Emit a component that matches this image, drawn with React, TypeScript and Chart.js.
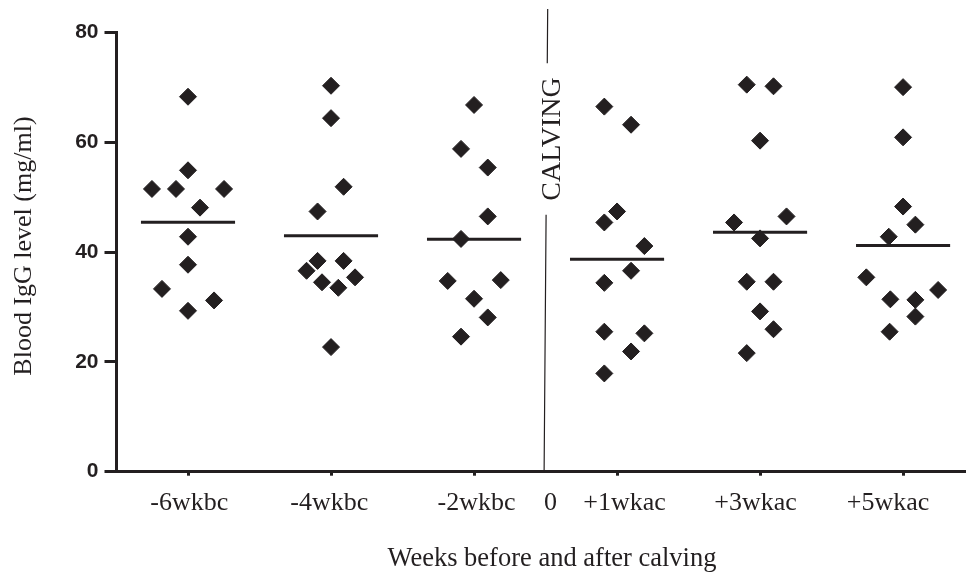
import React, { useEffect, useRef } from "react";
import { Chart, registerables } from "chart.js";

Chart.register(...registerables);

const INK = "#231f20";
const SERIF = '"Liberation Serif", "Times New Roman", Times, serif';
const SANS = '"Liberation Sans", Arial, Helvetica, sans-serif';

// Group centres on the index axis
const groupPositions = [0, 1, 2, 3, 4, 5];

// Individual IgG values (mg/ml) and their horizontal jitter (in group units)
const g6wkbcValues = [68.3, 54.9, 51.5, 51.5, 51.5, 48.1, 42.8, 37.7, 33.3, 31.2, 29.3];
const g6wkbcOffsets = [0, 0, -0.252, -0.084, 0.252, 0.084, 0, 0, -0.182, 0.182, 0];

const g4wkbcValues = [70.3, 64.4, 51.9, 47.4, 38.4, 38.4, 36.6, 35.4, 34.5, 33.5, 22.7];
const g4wkbcOffsets = [0, 0, 0.088, -0.094, -0.094, 0.088, -0.171, 0.168, -0.063, 0.051, 0];

const g2wkbcValues = [66.8, 58.8, 55.4, 46.5, 42.4, 34.75, 34.9, 31.5, 28.1, 24.6];
const g2wkbcOffsets = [0, -0.091, 0.096, 0.096, -0.091, -0.184, 0.187, 0, 0.096, -0.091];

const g1wkacValues = [66.5, 63.2, 47.4, 45.4, 41.1, 36.6, 34.4, 25.5, 25.2, 21.9, 17.9];
const g1wkacOffsets = [-0.089, 0.098, 0, -0.089, 0.191, 0.098, -0.089, -0.089, 0.191, 0.098, -0.089];

const g3wkacValues = [70.5, 70.2, 60.3, 46.5, 45.4, 42.5, 34.6, 34.6, 29.2, 25.95, 21.6];
const g3wkacOffsets = [-0.093, 0.094, 0, 0.185, -0.182, 0, -0.093, 0.094, 0, 0.094, -0.093];

const g5wkacValues = [70.05, 60.9, 48.3, 45.0, 42.8, 35.4, 31.4, 31.3, 33.1, 28.25, 25.5];
const g5wkacOffsets = [0, 0, 0, 0.086, -0.1, -0.257, -0.089, 0.086, 0.245, 0.086, -0.094];

const groupValues = [g6wkbcValues, g4wkbcValues, g2wkbcValues, g1wkacValues, g3wkacValues, g5wkacValues];
const groupOffsets = [g6wkbcOffsets, g4wkbcOffsets, g2wkbcOffsets, g1wkacOffsets, g3wkacOffsets, g5wkacOffsets];

// Group means (horizontal bars)
const means = [45.45, 43.0, 42.35, 38.7, 43.6, 41.2];
const MEAN_HALF_WIDTH = 0.329;

// Axes
const yTicks = [0, 20, 40, 60, 80];
const xLabelTexts = ["-6wkbc", "-4wkbc", "-2wkbc", "0", "+1wkac", "+3wkac", "+5wkac"];
const xLabelPositions = [0.009, 0.988, 2.017, 2.534, 3.053, 3.968, 4.895];
const X_MIN = -0.5;
const X_MAX = 5.44;
const Y_TITLE = "Blood IgG level (mg/ml)";
const Y_TITLE_CENTER = 41.1; // y value at which the y title is centred
const X_TITLE = "Weeks before and after calving";
const X_TITLE_CENTER = 2.545; // x value at which the x title is centred

// Calving marker
const CALVING_BOTTOM_X = 2.49;
const CALVING_TOP_X = 2.515;
const CALVING_TOP_Y = 84.3;
const CALVING_LABEL_Y = 60.6;

const calvingPlugin = {
  id: "calving",
  afterDatasetsDraw(chart: any) {
    const { ctx } = chart;
    const x = chart.scales.x;
    const y = chart.scales.y;
    const xb = x.getPixelForValue(CALVING_BOTTOM_X);
    const yb = y.getPixelForValue(0);
    const xt = x.getPixelForValue(CALVING_TOP_X);
    const yt = y.getPixelForValue(CALVING_TOP_Y);
    const xAt = (py: number) => xb + ((xt - xb) * (yb - py)) / (yb - yt);
    ctx.save();
    ctx.font = `28px ${SERIF}`;
    const tw = ctx.measureText("CALVING").width;
    const ly = y.getPixelForValue(CALVING_LABEL_Y);
    const gap = tw / 2 + 14;
    ctx.strokeStyle = INK;
    ctx.lineWidth = 1.2;
    ctx.beginPath();
    ctx.moveTo(xb, yb);
    ctx.lineTo(xAt(ly + gap), ly + gap);
    ctx.moveTo(xAt(ly - gap), ly - gap);
    ctx.lineTo(xt, yt);
    ctx.stroke();
    ctx.translate(xAt(ly) + 5.5, ly);
    ctx.rotate(-Math.PI / 2);
    ctx.textAlign = "center";
    ctx.textBaseline = "middle";
    ctx.fillStyle = INK;
    ctx.fillText("CALVING", 0, 0);
    ctx.restore();
  },
};

const axisTitlesPlugin = {
  id: "axisTitles",
  afterDraw(chart: any) {
    const { ctx } = chart;
    const y = chart.scales.y;
    const xl = chart.scales.xl;
    ctx.save();
    ctx.fillStyle = INK;
    ctx.textAlign = "center";
    ctx.textBaseline = "middle";
    ctx.font = `26.5px ${SERIF}`;
    ctx.fillText(X_TITLE, xl.getPixelForValue(X_TITLE_CENTER), xl.bottom - 18);
    ctx.font = `26px ${SERIF}`;
    ctx.translate(y.left + 24.5, y.getPixelForValue(Y_TITLE_CENTER));
    ctx.rotate(-Math.PI / 2);
    ctx.fillText(Y_TITLE, 0, 0);
    ctx.restore();
  },
};

export default function App() {
  const canvasRef = useRef<HTMLCanvasElement | null>(null);

  useEffect(() => {
    if (!canvasRef.current) return;

    const points: { x: number; y: number }[] = [];
    groupValues.forEach((vals, gi) => {
      vals.forEach((v, i) => {
        points.push({ x: groupPositions[gi] + groupOffsets[gi][i], y: v });
      });
    });

    const meanSets = means.map((m, gi) => ({
      type: "scatter" as const,
      data: [
        { x: groupPositions[gi] - MEAN_HALF_WIDTH, y: m },
        { x: groupPositions[gi] + MEAN_HALF_WIDTH, y: m },
      ],
      showLine: true,
      borderColor: INK,
      borderWidth: 3,
      pointRadius: 0,
      pointHoverRadius: 0,
      borderCapStyle: "butt" as const,
      order: 2,
    }));

    const noSidePadding = (s: any) => {
      s.paddingLeft = 0;
      s.paddingRight = 0;
    };

    const chart = new Chart(canvasRef.current, {
      type: "scatter",
      data: {
        datasets: [
          {
            data: points,
            pointStyle: "rectRot",
            pointRadius: 8.5,
            pointHoverRadius: 8.5,
            backgroundColor: INK,
            borderColor: INK,
            borderWidth: 1,
            order: 1,
          },
          ...meanSets,
        ] as any,
      },
      options: {
        animation: false,
        responsive: true,
        maintainAspectRatio: false,
        layout: { autoPadding: false, padding: { top: 32.5, left: 0, right: 0, bottom: 0 } },
        plugins: {
          legend: { display: false },
          tooltip: { enabled: false },
        },
        scales: {
          x: {
            type: "linear",
            position: "bottom",
            weight: 0,
            min: X_MIN,
            max: X_MAX,
            afterBuildTicks: (s: any) => {
              s.ticks = groupPositions.map((v) => ({ value: v }));
            },
            afterFit: (s: any) => {
              s.height = 4;
              noSidePadding(s);
            },
            ticks: { display: false },
            grid: {
              display: true,
              drawOnChartArea: false,
              drawTicks: true,
              tickLength: 4,
              tickWidth: 3,
              tickColor: INK,
              color: INK,
            },
            border: { display: true, width: 3, color: INK },
          },
          xl: {
            type: "linear",
            position: "bottom",
            weight: 1,
            min: X_MIN,
            max: X_MAX,
            afterBuildTicks: (s: any) => {
              s.ticks = xLabelPositions.map((v) => ({ value: v }));
            },
            afterFit: (s: any) => {
              s.height = 101.3;
              noSidePadding(s);
            },
            ticks: {
              autoSkip: false,
              maxRotation: 0,
              minRotation: 0,
              padding: 12,
              color: INK,
              font: { family: SERIF, size: 26 },
              callback: (_v: any, i: number) => xLabelTexts[i],
            },
            grid: { display: false, drawTicks: false, tickLength: 0 },
            border: { display: false },
          },
          y: {
            type: "linear",
            position: "left",
            min: 0,
            max: 80,
            afterBuildTicks: (s: any) => {
              s.ticks = yTicks.map((v) => ({ value: v }));
            },
            afterFit: (s: any) => {
              s.width = 116.5;
            },
            ticks: {
              padding: 6,
              color: INK,
              font: { family: SANS, size: 21, weight: "bold" },
            },
            grid: {
              display: true,
              drawOnChartArea: false,
              drawTicks: true,
              tickLength: 12,
              tickWidth: 3,
              tickColor: INK,
              color: INK,
            },
            border: { display: true, width: 3, color: INK },
          },
        },
      },
      plugins: [calvingPlugin, axisTitlesPlugin],
    });

    return () => chart.destroy();
  }, []);

  return (
    <div
      style={{
        position: "fixed",
        left: 0,
        top: 0,
        width: "966px",
        height: "577px",
        background: "#ffffff",
      }}
    >
      <canvas ref={canvasRef} />
    </div>
  );
}
